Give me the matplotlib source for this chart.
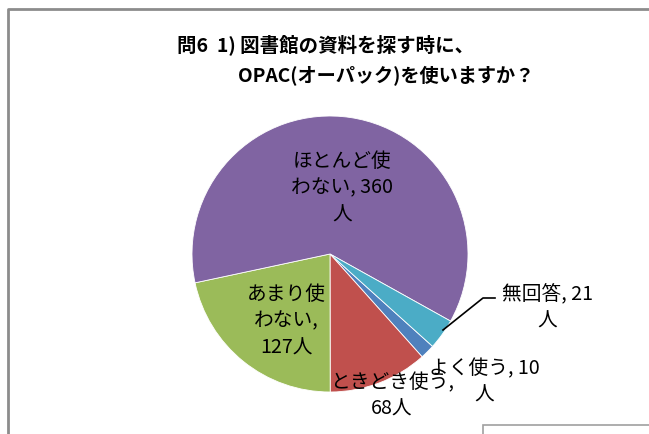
from matplotlib import pyplot as plt
from matplotlib.patches import Rectangle

plt.rcParams['font.family'] = ['Noto Sans CJK JP', 'DejaVu Sans']

# data (Excel order, drawn clockwise)
categories = ['よく使う', 'ときどき使う', 'あまり使わない', 'ほとんど使わない', '無回答']
counts = [10, 68, 127, 360, 21]
colors = ['#4F81BD', '#C0504D', '#9BBB59', '#8064A2', '#4BACC6']
label_texts = ['よく使う, 10\n人', 'ときどき使う,\n68人', 'あまり使\nわない,\n127人',
               'ほとんど使\nわない, 360\n人', '無回答, 21\n人']
# label centres in pixel coords (x, y from top)
label_pos = [(484, 382), (392, 396), (286, 321), (342, 188), (547, 308)]

W, H = 649, 435
fig = plt.figure(figsize=(W / 100, H / 100), dpi=100)
ax = fig.add_axes([0, 0, 1, 1])

# chart frame
ax.plot([8, 8, W + 5], [-5, H - 10, H - 10], color='#8c8c8c', lw=2, solid_capstyle='butt')
ax.add_patch(Rectangle((483, -20), 200, 20 + (H - 426), fill=False,
                       edgecolor='#a0a0a0', lw=1.2))

# pie: first slice starts 132 deg clockwise from 12 o'clock
ax.pie(counts, colors=colors, startangle=90 - 132, counterclock=False,
       center=(330, H - 255), radius=138, frame=True,
       wedgeprops=dict(edgecolor='white', linewidth=0.6))
ax.set_xlim(0, W)
ax.set_ylim(0, H)
ax.set_aspect('equal')
ax.axis('off')

for txt, (x, y) in zip(label_texts, label_pos):
  ax.text(x, H - y, txt, ha='center', va='center', fontsize=14.2,
          linespacing=1.35, color='black')

# leader line for 無回答
ax.plot([443, 483, 495], [H - 331, H - 299, H - 299], color='black', lw=1.2)

# title
ax.text(177, H - 45, '問6  1) 図書館の資料を探す時に、', ha='left', va='center',
        fontsize=14, fontweight='bold')
ax.text(238, H - 76, 'OPAC(オーパック)を使いますか？', ha='left', va='center',
        fontsize=13.8, fontweight='bold')

fig.savefig('out.png', dpi=100)
